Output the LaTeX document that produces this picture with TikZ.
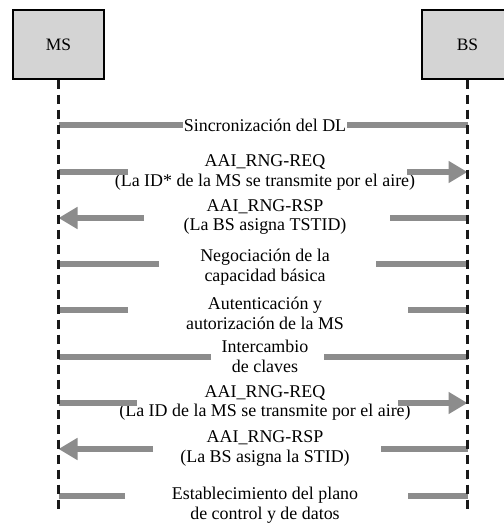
\documentclass[tikz,border=0pt]{standalone}
\usepackage{fontspec}
\setmainfont{Liberation Serif}
\usetikzlibrary{arrows.meta}
\definecolor{boxgray}{gray}{0.83}
\definecolor{msggray}{gray}{0.55}

\begin{document}
\begin{tikzpicture}[x=1bp, y=-1bp, node distance=409bp,
  actor/.style={rectangle, draw, line width=1.2bp, fill=boxgray, minimum width=91bp, minimum height=69bp, font=\fontsize{17.5}{20}\selectfont},
  life/.style={draw=black!90, line width=2.8bp, dash pattern=on 9bp off 6bp},
  msg/.style={draw=msggray, line width=6bp},
  plainend/.style={},
  headend/.style={-{Triangle[length=19bp, width=21bp]}},
  txt/.style={align=center, inner sep=0pt, font=\fontsize{18}{20}\selectfont}]
  \clip (0,0) rectangle (504,524);
  \node[actor] (ms) at (58.5,44.5) {MS};
  \node[actor, right of=ms] (bs) {BS};
  \coordinate (msend) at (ms |- 0,511);
  \coordinate (bsend) at (bs |- 0,511);

  \node[txt, fill=white, inner sep=1bp] (dl) at (265,125) {Sincronización del DL};
  \node[txt] (req1) at (265,172.5) {AAI\_RNG-REQ\\(La ID* de la MS se transmite por el aire)};
  \node[txt] (rsp1) at (265,217) {AAI\_RNG-RSP\\(La BS asigna TSTID)};
  \node[txt] (neg) at (265,267.5) {Negociación de la\\capacidad básica};
  \node[txt] (aut) at (265,313.5) {Autenticación y\\autorización de la MS};
  \node[txt] (int) at (265,356) {Intercambio\\de claves};
  \node[txt] (req2) at (265,403) {AAI\_RNG-REQ\\(La ID de la MS se transmite por el aire)};
  \node[txt] (rsp2) at (265,448.5) {AAI\_RNG-RSP\\(La BS asigna la STID)};
  \node[txt] (est) at (265,505.5) {Establecimiento del plano\\de control y de datos};

  \draw[msg] (ms |- dl) -- (dl.west);
  \draw[msg] (dl.east) -- (bs |- dl);
  \foreach \n/\y/\l/\r/\tl/\tr in {
    a/172/128/407/plainend/headend,
    b/218/144/390/headend/plainend,
    c/264/159/376/plainend/plainend,
    d/310/128/408/plainend/plainend,
    e/357/211/324/plainend/plainend,
    f/403/137/398/plainend/headend,
    g/449/153/381/headend/plainend,
    h/496/125/408/plainend/plainend}
  {
    \coordinate (l\n) at (\l,\y);
    \coordinate (r\n) at (\r,\y);
    \draw[msg, \tl] (l\n) -- (ms |- l\n);
    \draw[msg, \tr] (r\n) -- (bs |- r\n);
  }

  \draw[life] (ms.south) -- (msend);
  \draw[life] (bs.south) -- (bsend);
\end{tikzpicture}
\end{document}
